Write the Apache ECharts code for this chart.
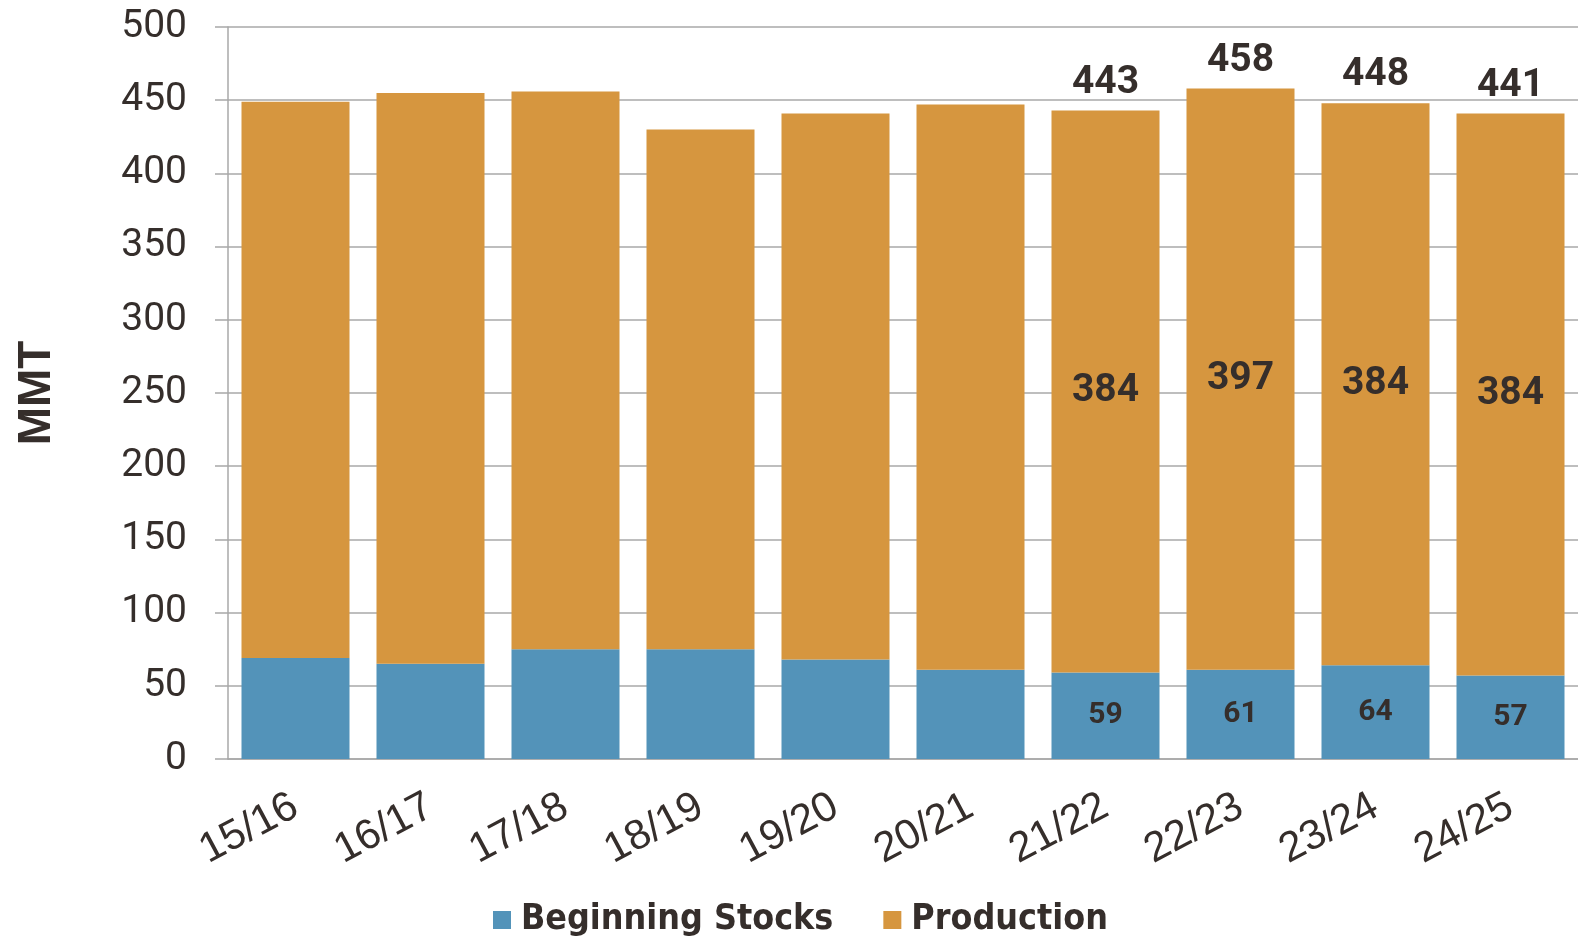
<!DOCTYPE html>
<html>
<head>
<meta charset="utf-8">
<script src="https://cdn.jsdelivr.net/npm/echarts@6/dist/echarts.min.js"></script>
<style>
  html, body { margin: 0; padding: 0; background: #fff; }
  #main { width: 1578px; height: 937px; }
</style>
</head>
<body>
<div id="main"></div>
<script>
// marketing years
const years = ['15/16', '16/17', '17/18', '18/19', '19/20', '20/21', '21/22', '22/23', '23/24', '24/25']
// MMT
const beginningStocks = [69, 65, 75, 75, 68, 61, 59, 61, 64, 57]
const production = [380, 390, 381, 355, 373, 386, 384, 397, 384, 384]
const totals = [449, 455, 456, 430, 441, 447, 443, 458, 448, 441]
// only the last years carry value labels
const firstLabelled = 6

const condensed = "'DejaVu Sans Condensed', 'Roboto', sans-serif"
const textColor = '#352e2b'
const gridColor = '#a8a8a8'

const myChart = echarts.init(document.getElementById('main'))

const labelFmt = function (p) {
  return p.dataIndex >= firstLabelled ? p.value : ''
}

const option = {
  animation: false,
  color: ['#5393b9', '#d6963f'],
  grid: {
    left: 228,
    right: -10,
    top: 27,
    bottom: 178
  },
  legend: {
    top: 897,
    left: 488,
    itemWidth: 18,
    itemHeight: 18,
    itemGap: 50,
    icon: 'rect',
    data: ['Beginning Stocks', 'Production'],
    textStyle: {
      fontFamily: condensed,
      fontWeight: 'bold',
      fontSize: 35.5,
      color: textColor,
      padding: [0, 0, 0, 5]
    }
  },
  xAxis: {
    type: 'category',
    data: years,
    axisLine: { lineStyle: { color: gridColor, width: 1.5 } },
    axisTick: { length: 13, lineStyle: { color: gridColor, width: 1.5 } },
    axisLabel: {
      rotate: 28,
      margin: 45,
      fontFamily: "'Liberation Sans', Arial, sans-serif",
      fontSize: 42,
      color: textColor
    }
  },
  yAxis: {
    type: 'value',
    min: 0,
    max: 500,
    interval: 50,
    name: 'MMT',
    nameLocation: 'middle',
    nameGap: 168,
    nameTextStyle: {
      fontFamily: "'Liberation Sans', Arial, sans-serif",
      fontWeight: 'bold',
      fontSize: 46,
      color: textColor
    },
    axisLine: { show: true, lineStyle: { color: gridColor, width: 1.5 } },
    axisTick: { show: true, length: 13, lineStyle: { color: gridColor, width: 1.5 } },
    splitLine: { lineStyle: { color: gridColor, width: 1.5 } },
    axisLabel: {
      margin: 41,
      fontFamily: 'Roboto, sans-serif',
      fontSize: 39,
      color: textColor
    }
  },
  series: [
    {
      name: 'Beginning Stocks',
      type: 'bar',
      stack: 'supply',
      barCategoryGap: '20%',
      data: beginningStocks,
      label: {
        show: true,
        position: 'inside',
        formatter: labelFmt,
        fontFamily: 'Roboto, sans-serif',
        fontWeight: 'bold',
        fontSize: 30,
        color: textColor
      }
    },
    {
      name: 'Production',
      type: 'bar',
      stack: 'supply',
      data: production,
      label: {
        show: true,
        position: 'inside',
        formatter: labelFmt,
        fontFamily: 'Roboto, sans-serif',
        fontWeight: 'bold',
        fontSize: 39,
        color: textColor
      }
    },
    {
      name: 'Total',
      type: 'scatter',
      symbolSize: 0,
      data: totals,
      silent: true,
      itemStyle: { opacity: 1 },
      label: {
        show: true,
        position: 'top',
        distance: 8,
        formatter: labelFmt,
        fontFamily: 'Roboto, sans-serif',
        fontWeight: 'bold',
        fontSize: 39,
        color: textColor
      }
    }
  ]
}

option && myChart.setOption(option)
</script>
</body>
</html>
